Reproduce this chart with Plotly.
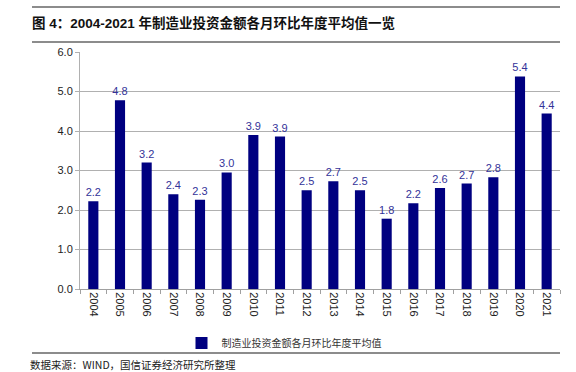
import plotly.graph_objects as go

years = ["2004", "2005", "2006", "2007", "2008", "2009", "2010", "2011", "2012",
         "2013", "2014", "2015", "2016", "2017", "2018", "2019", "2020", "2021"]
values = [2.22, 4.78, 3.2, 2.4, 2.26, 2.95, 3.9, 3.86, 2.5,
          2.73, 2.5, 1.78, 2.17, 2.56, 2.67, 2.83, 5.38, 4.44]
series_name = "制造业投资金额各月环比年度平均值"
title_text = "图 4：2004-2021 年制造业投资金额各月环比年度平均值一览"
source_text = "数据来源：WIND，国信证券经济研究所整理"
y_ticks = [0, 1, 2, 3, 4, 5, 6]

fig = go.Figure()
fig.add_trace(go.Bar(
    x=years, y=values, name=series_name,
    marker=dict(color="#000080", line=dict(width=0)),
    texttemplate="%{y:.1f}", textposition="outside", constraintext="none",
    textfont=dict(color="#333399", size=11, family="Liberation Sans"),
    cliponaxis=False, showlegend=True,
))

fig.update_layout(
    width=576, height=372,
    margin=dict(l=80, r=16, t=52, b=83, autoexpand=False),
    paper_bgcolor="white", plot_bgcolor="white",
    font=dict(family="Liberation Sans, Noto Sans CJK SC", size=11, color="#222222"),
    bargap=0.62,
    showlegend=True,
    legend=dict(orientation="h", x=0.425, xanchor="center", y=-0.228, yanchor="middle",
                font=dict(family="Noto Sans CJK SC", size=10, color="#333333"),
                itemwidth=30, bgcolor="rgba(0,0,0,0)"),
    xaxis=dict(type="category", tickangle=90, showgrid=False,
               showline=True, linecolor="#a0a0a0", linewidth=1,
               ticks="outside", tickson="boundaries", ticklen=4, tickcolor="#a0a0a0",
               tickfont=dict(size=11, color="#222222")),
    yaxis=dict(range=[0, 6], tickvals=y_ticks, tickformat=".1f",
               showgrid=True, gridcolor="#b0b0b0", gridwidth=1,
               showline=True, linecolor="#b0b0b0", linewidth=1,
               ticks="outside", ticklen=4, tickcolor="#b0b0b0",
               zeroline=False, tickfont=dict(size=11, color="#222222")),
)

fig.add_annotation(xref="paper", yref="paper", x=-0.104, y=1.122, xanchor="left", yanchor="middle",
                   text="<b>" + title_text + "</b>", showarrow=False,
                   font=dict(family="Liberation Sans, Noto Sans CJK SC", size=13.5, color="#111111"))
fig.add_annotation(xref="paper", yref="paper", x=-0.108, y=-0.318, xanchor="left", yanchor="middle",
                   text=source_text, showarrow=False,
                   font=dict(family="Noto Sans CJK SC", size=10.5, color="#222222"))

for yy in [1.19, 1.042, -0.27]:
    fig.add_shape(type="rect", xref="paper", yref="paper", x0=-0.1, x1=1.0, y0=yy - 0.004, y1=yy + 0.004,
                  fillcolor="#8c8c8c", line=dict(width=0))

fig.write_html("out.html", config={"displayModeBar": False},
               post_script="document.body.style.margin='0';document.body.style.overflow='hidden';")
